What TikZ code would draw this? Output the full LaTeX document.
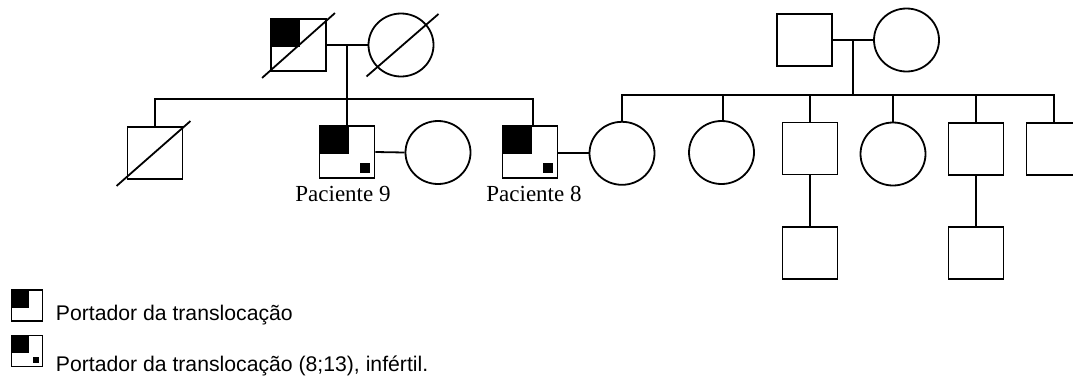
\documentclass[tikz,border=0pt]{standalone}
\usepackage{fontspec}
\setmainfont{Liberation Serif}
\newfontfamily\legendfont{Liberation Sans}
\usetikzlibrary{calc,shapes.geometric}
\begin{document}
\begin{tikzpicture}[x=1pt,y=-1pt,line width=1.8pt,
  male/.style={draw,rectangle,minimum width=55pt,minimum height=52pt,inner sep=0pt},
  female/.style={draw,ellipse,minimum width=65pt,minimum height=63pt,inner sep=0pt},
  carrier/.style={path picture={\fill (path picture bounding box.north west) rectangle ([xshift=1.5pt,yshift=-2pt]path picture bounding box.center);}},
  infertile/.style 2 args={path picture={%
    \fill (path picture bounding box.north west) rectangle ([xshift=1.5pt,yshift=-2pt]path picture bounding box.center);
    \fill ([xshift=-#1,yshift=#1]path picture bounding box.south east) rectangle ++(-#2,#2);}},
  lbl/.style={font=\fontsize{23}{26}\selectfont,anchor=base,inner sep=0pt},
  leg/.style={font=\legendfont\fontsize{21.2}{24}\selectfont,anchor=base west,inner sep=0pt},
  legbox/.style={draw,rectangle,minimum width=31pt,minimum height=31pt,inner sep=0pt,line width=1.5pt}]
\useasboundingbox (0,0) rectangle (1073,378);

% left family
\node[male,carrier] (gf) at (298.5,45) {};
\node[female] (gm) at (401,45) {};
\draw (gf.east) -- (gm.west);
\coordinate (lm) at (347,45);
\coordinate (ls) at (347,99);
\draw (lm) -- (ls);
\draw ($(gf.south west)+(-8,6)$) -- ($(gf.north east)+(8,-5)$);
\draw ($(gm.center)+(-34.5,31.5)$) -- ($(gm.center)+(37.5,-31)$);

\node[male] (s1) at (155,153) {};
\node[male,infertile={5pt}{10pt}] (p9) at (347,152) {};
\node[female] (w9) at (438,152.5) {};
\node[male,infertile={5pt}{10pt}] (p8) at (530,152) {};
\node[female] (w8) at (622,153.3) {};
\draw ($(s1.south west)+(-10,6)$) -- ($(s1.north east)+(7,-5)$);
\draw (s1.north) -- (s1.north |- ls) -- ([xshift=3pt]p8.north |- ls) -- ([xshift=3pt]p8.north);
\draw (ls) -- (p9.north);
\draw (p9.east) -- (w9.west);
\draw (p8.east |- w8.west) -- (w8.west);
\node[lbl] (t9) at (343,201) {Paciente 9};
\node[lbl] (t8) at (534,201) {Paciente 8};

% right family
\node[male] (rgf) at (804.5,40) {};
\node[female] (rgm) at (906.5,40) {};
\draw (rgf.east) -- (rgm.west);
\coordinate (rm) at (853,40);
\coordinate (rs) at (853,95);
\draw (rm) -- (rs);
\node[female] (c2) at (721.5,152.5) {};
\node[male] (c3) at (810,148.5) {};
\node[female] (c4) at (893,154) {};
\node[male] (c5) at (976,149) {};
\node[male] (c6) at (1054,149) {};
\node[male] (g1) at (810,253) {};
\node[male] (g2) at (976,253) {};
\draw (w8.north) -- (w8.north |- rs) -- (c6.north |- rs) -- (c6.north);
\draw ([xshift=1.5pt]c2.north) -- ([xshift=1.5pt]c2.north |- rs);
\draw (c3.north) -- (c3.north |- rs);
\draw (c4.north) -- (c4.north |- rs);
\draw (c5.north) -- (c5.north |- rs);
\draw (c3.south) -- (g1.north);
\draw (c5.south) -- (g2.north);

% legend
\node[legbox,carrier] (l1) at (27.2,305.7) {};
\node[legbox,infertile={3.5pt}{6.5pt}] (l2) at (27.2,351.2) {};
\node[leg] (lt1) at (55,320) {Portador da translocação};
\node[leg] (lt2) at (55,371) {Portador da translocação (8;13), infértil.};
\end{tikzpicture}
\end{document}
